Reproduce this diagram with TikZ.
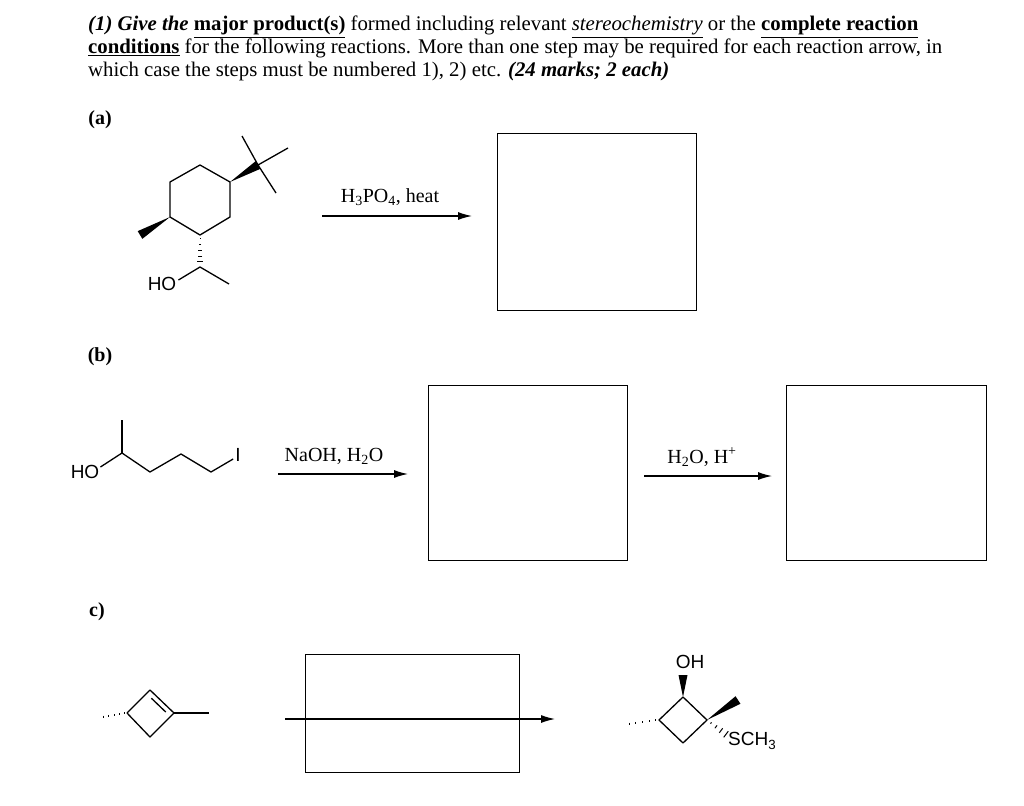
\documentclass[tikz,border=0pt]{standalone}
\usepackage{fontspec}
\setmainfont{Liberation Serif}
\setsansfont{Liberation Sans}
\usetikzlibrary{calc,arrows.meta}
\newcommand\hashbond[3]{\foreach \t in {0.12,0.3,...,1.0}{\draw[line width=1.1pt] ($(#1)!\t!(#2)!{\t*#3 pt}!90:(#2)$) -- ($(#1)!\t!(#2)!{\t*#3 pt}!-90:(#2)$);}}
\newcommand\wedgebond[3]{\fill (#1) -- ($(#2)!#3!90:(#1)$) -- ($(#2)!#3!-90:(#1)$) -- cycle;}
\tikzset{
 bond/.style={line width=1.3pt, line join=round},
 answerbox/.style={draw, line width=0.9pt},
 rxn/.style={line width=1.2pt, -{Latex[length=14pt,width=8pt]}},
 hdr/.style={anchor=base west, inner sep=0, font=\fontsize{20.8}{22}\selectfont},
 lbl/.style={inner sep=0, font=\fontsize{20}{22}\selectfont},
 atom/.style={inner sep=0, font=\sffamily\fontsize{19}{20}\selectfont},
}
\begin{document}
\begin{tikzpicture}[x=1pt,y=-1pt]
\useasboundingbox (0,0) rectangle (1024,805);
% header
\node[hdr] (h1) at (88,31) {\textbf{\textit{(1) Give the }}\textbf{\underline{major product(s)}} formed including relevant \textit{\underline{stereochemistry}} or the \textbf{\underline{complete reaction}}};
\node[hdr] (h2) at (88,54) {\textbf{\underline{conditions}} for the following reactions. More than one step may be required for each reaction arrow, in};
\node[hdr] (h3) at (88,77) {which case the steps must be numbered 1), 2) etc. \textbf{\textit{(24 marks; 2 each)}}};
\node[lbl,font=\bfseries\fontsize{20}{22}\selectfont] (la) at (100,120) {(a)};
\node[lbl,font=\bfseries\fontsize{20}{22}\selectfont] (lb) at (100,357) {(b)};
\node[lbl,font=\bfseries\fontsize{20}{22}\selectfont] (lc) at (97,612) {c)};
% (a) molecule
\coordinate (r1) at (200,165); \coordinate (r2) at (230,182); \coordinate (r3) at (230,217);
\coordinate (r4) at (200,235); \coordinate (r5) at (170,217); \coordinate (r6) at (170,182);
\draw[bond] (r1)--(r2)--(r3)--(r4)--(r5)--(r6)--cycle;
\coordinate (tq) at (258,165);
\wedgebond{r2}{tq}{4.5pt}
\coordinate (m1) at (242,136); \coordinate (m2) at (288,148); \coordinate (m3) at (276,193);
\draw[bond] (tq)--(m1) (tq)--(m2) (tq)--(m3);
\coordinate (me) at (140,235);
\wedgebond{r5}{me}{4.5pt}
\coordinate (ch) at (200,267);
\hashbond{r4}{ch}{3.5}
\node[atom] (hoa) at (162,284) {HO};
\coordinate (mea) at (229,284);
\draw[bond] (hoa.east)++(2,-4) -- (ch) -- (mea);
% (a) reaction
\coordinate (a1) at (322,216); \coordinate (a2) at (472,216);
\draw[rxn] (a1) -- (a2);
\node[lbl] (ta) at (390,197) {H\textsubscript{3}PO\textsubscript{4}, heat};
\node[answerbox, minimum width=199pt, minimum height=177pt] (boxa) at (596.5,221.5) {};
% (b) molecule
\node[atom] (hob) at (85,472) {HO};
\coordinate (b2) at (122,453); \coordinate (bm) at (122,420);
\coordinate (b3) at (150,472); \coordinate (b4) at (181,454); \coordinate (b5) at (211,472);
\node[atom] (iod) at (238,455) {I};
\draw[bond] (hob.east)++(1,-5) -- (b2) -- (b3) -- (b4) -- (b5) -- ($(iod.west)+(-2,4)$);
\draw[bond] (b2) -- (bm);
% (b) reactions
\coordinate (b1s) at (278,474); \coordinate (b1e) at (408,474);
\draw[rxn] (b1s) -- (b1e);
\node[lbl] (tb1) at (334,456) {NaOH, H\textsubscript{2}O};
\node[answerbox, minimum width=199pt, minimum height=175pt] (boxb1) at (527.5,472.5) {};
\coordinate (b2s) at (644,476); \coordinate (b2e) at (772,476);
\draw[rxn] (b2s) -- (b2e);
\node[lbl] (tb2) at (702,457) {H\textsubscript{2}O, H\textsuperscript{+}};
\node[answerbox, minimum width=200pt, minimum height=175pt] (boxb2) at (886,472.5) {};
% (c) molecule
\coordinate (c1) at (127,713); \coordinate (c2) at (150,690); \coordinate (c3) at (174,713); \coordinate (c4) at (150,737);
\draw[bond] (c1)--(c2)--(c3)--(c4)--cycle;
\draw[bond] ($(c2)!0.2!(c3)!5pt!-90:(c3)$) -- ($(c2)!0.8!(c3)!5pt!-90:(c3)$);
\coordinate (cm) at (209,713); \draw[bond] (c3)--(cm);
\coordinate (ch1) at (101,713);
\foreach \t in {0.1,0.3,0.5,0.7,0.9}{\draw[line width=1pt] ($(c1)!\t!(ch1)+(0,-{1+4*\t})$) -- ($(c1)!\t!(ch1)+(0,{1+4*\t})$);}
% (c) reaction
\node[answerbox, minimum width=214pt, minimum height=118pt] (boxc) at (412,713) {};
\coordinate (cs) at (285,719); \coordinate (ce) at (555,719);
\draw[rxn] (cs) -- (ce);
% (c) product
\coordinate (p1) at (683,697); \coordinate (p2) at (707,720); \coordinate (p3) at (683,743); \coordinate (p4) at (659,720);
\draw[bond] (p1)--(p2)--(p3)--(p4)--cycle;
\node[atom] (oh) at (690,662) {OH};
\coordinate (ohb) at (683,675);
\wedgebond{p1}{ohb}{4.5pt}
\coordinate (pm) at (738,700);
\wedgebond{p2}{pm}{4.5pt}
\node[atom, anchor=west] (sch) at (728,741) {SCH\textsubscript{3}};
\coordinate (ps) at (727,735);
\foreach \t in {0.2,0.45,0.7,0.95}{\draw[line width=1pt] ($(p2)!\t!(ps)!{\t*4pt}!90:(ps)$) -- ($(p2)!\t!(ps)!{\t*4pt}!-90:(ps)$);}
\coordinate (pl) at (626,720);
\foreach \t in {0.1,0.3,0.5,0.7,0.9}{\draw[line width=1pt] ($(p4)!\t!(pl)+(0,-{1+4*\t})$) -- ($(p4)!\t!(pl)+(0,{1+4*\t})$);}
\end{tikzpicture}
\end{document}
